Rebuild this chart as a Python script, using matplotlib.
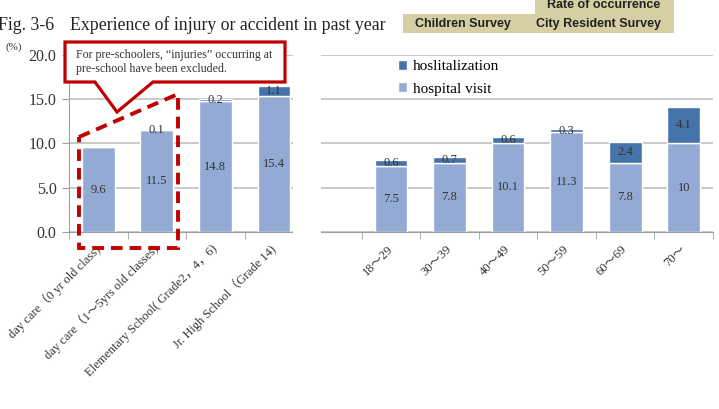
import numpy as np
import matplotlib
matplotlib.use('Agg')
import matplotlib.pyplot as plt
from matplotlib.patches import Rectangle, Polygon

plt.rcParams['font.family'] = ['Liberation Serif', 'Noto Sans CJK JP']

# data
child_labels = ['day care（0 yr old class)', 'day care（1～5yrs old classes)',
                'Elementary School( Grade2，4，6)', 'Jr. High School（Grade 14)']
child_visit = [9.6, 11.5, 14.8, 15.4]
child_hosp = [0.0, 0.1, 0.2, 1.1]

adult_labels = ['18～29', '30～39', '40～49', '50～59', '60～69', '70～']
adult_visit = [7.5, 7.8, 10.1, 11.3, 7.8, 10]
adult_hosp = [0.6, 0.7, 0.6, 0.3, 2.4, 4.1]

light_blue = '#93aad4'
dark_blue = '#4673aa'
txt_color = '#333333'

W, H = 719, 409
def fx(x):
    return x / W
def fy(y):
    return 1 - y / H

fig = plt.figure(figsize=(W / 100, H / 100), dpi=100)
ax = fig.add_axes([fx(69), fy(232), (713 - 69) / W, (232 - 55) / H])

# one axis, empty slot between the two surveys
x_child = np.arange(len(child_visit))
x_adult = np.arange(len(adult_visit)) + len(child_visit) + 1
xs = np.concatenate([x_child, x_adult])
visit = np.array(child_visit + adult_visit)
hosp = np.array(child_hosp + adult_hosp)
labels = child_labels + adult_labels

bw = 0.56
ax.bar(xs, visit, bw, color=light_blue, edgecolor='white', linewidth=1.0, zorder=2,
       label='hospital visit')
ax.bar(xs, hosp, bw, bottom=visit, color=dark_blue, edgecolor='white', linewidth=1.0,
       zorder=2, label='hoslitalization')

for x, v, h in zip(xs, visit, hosp):
    ax.text(x, v / 2, f'{v:g}', ha='center', va='center', fontsize=9, color=txt_color, zorder=4)
    if h > 0:
        ax.text(x, v + h / 2, f'{h:g}', ha='center', va='center', fontsize=9,
                color=txt_color, zorder=4)

ax.set_xlim(-0.5, 10.5)
ax.set_ylim(0, 20)
ax.set_yticks([0, 5, 10, 15, 20])
ax.set_yticklabels([f'{t:.1f}' for t in [0, 5, 10, 15, 20]], fontsize=11.5, color=txt_color)
ax.yaxis.grid(True, color='#c0c0c0', linewidth=1.2)
ax.set_axisbelow(True)
ax.tick_params(axis='y', length=5, color='#a0a0a0', pad=4)

ax.set_xticks(xs)
ax.set_xticklabels(labels, rotation=45, ha='right', va='center', rotation_mode='anchor',
                   fontsize=9, color=txt_color)
ax.set_xticks(np.arange(-0.5, 11, 1), minor=True)
ax.tick_params(axis='x', which='major', length=0, pad=11)
ax.tick_params(axis='x', which='minor', length=5, color='#a0a0a0')

for s in ['top', 'right']:
    ax.spines[s].set_visible(False)
ax.spines['left'].set_color('#a0a0a0')
ax.spines['bottom'].set_color('#a0a0a0')

# white gap between the two surveys
ax.add_patch(Rectangle((3.33, -1.2), 0.47, 22, facecolor='white', edgecolor='none',
                       zorder=3, clip_on=False))

# legend
handles, leg_labels = ax.get_legend_handles_labels()
fig.legend(handles[::-1], leg_labels[::-1], loc='upper left',
           bbox_to_anchor=(fx(398), fy(60)), frameon=False, fontsize=11,
           handlelength=0.6, handleheight=0.6, handletextpad=0.35, labelspacing=0.6,
           borderaxespad=0, borderpad=0)

# title
fig.text(fx(-2), fy(25), 'Fig. 3-6', fontsize=12.8, va='center', ha='left', color='#222222')
fig.text(fx(70), fy(25), 'Experience of injury or accident in past year', fontsize=12.8,
         va='center', ha='left', color='#222222')
fig.text(fx(5), fy(47), '(%)', fontsize=8, va='center', ha='left', color=txt_color)

# survey header box
tan = '#d6cfa4'
fig.patches.append(Polygon([(fx(535), fy(0)), (fx(674), fy(0)), (fx(674), fy(33)),
                            (fx(403), fy(33)), (fx(403), fy(14)), (fx(535), fy(14))],
                           closed=True, facecolor=tan, edgecolor='none',
                           transform=fig.transFigure))
fig.text(fx(604), fy(5), 'Rate of occurrence', family='Liberation Sans', weight='bold',
         fontsize=9, ha='center', va='center', color='#222222')
fig.text(fx(463), fy(24), 'Children Survey', family='Liberation Sans', weight='bold',
         fontsize=9, ha='center', va='center', color='#222222')
fig.text(fx(598), fy(24), 'City Resident Survey', family='Liberation Sans', weight='bold',
         fontsize=9, ha='center', va='center', color='#222222')

# callout
red = '#c00000'
callout = [(65, 42), (285, 42), (285, 82), (153, 82), (117, 112), (95, 82), (65, 82)]
fig.patches.append(Polygon([(fx(a), fy(b)) for a, b in callout], closed=True,
                           facecolor='white', edgecolor=red, linewidth=2.3,
                           joinstyle='miter', transform=fig.transFigure, zorder=5))
fig.text(fx(76), fy(55), 'For pre-schoolers, \u201cinjuries\u201d occurring at',
         fontsize=8.6, va='center', ha='left', color=txt_color, zorder=6)
fig.text(fx(76), fy(69), 'pre-school have been excluded.',
         fontsize=8.6, va='center', ha='left', color=txt_color, zorder=6)

dashed = [(79, 137), (178, 94), (178, 248), (79, 248)]
fig.patches.append(Polygon([(fx(a), fy(b)) for a, b in dashed], closed=True,
                           facecolor='none', edgecolor=red, linewidth=2.8,
                           linestyle=(0, (3, 1.8)), transform=fig.transFigure, zorder=5))

fig.savefig('out.png', dpi=100)
